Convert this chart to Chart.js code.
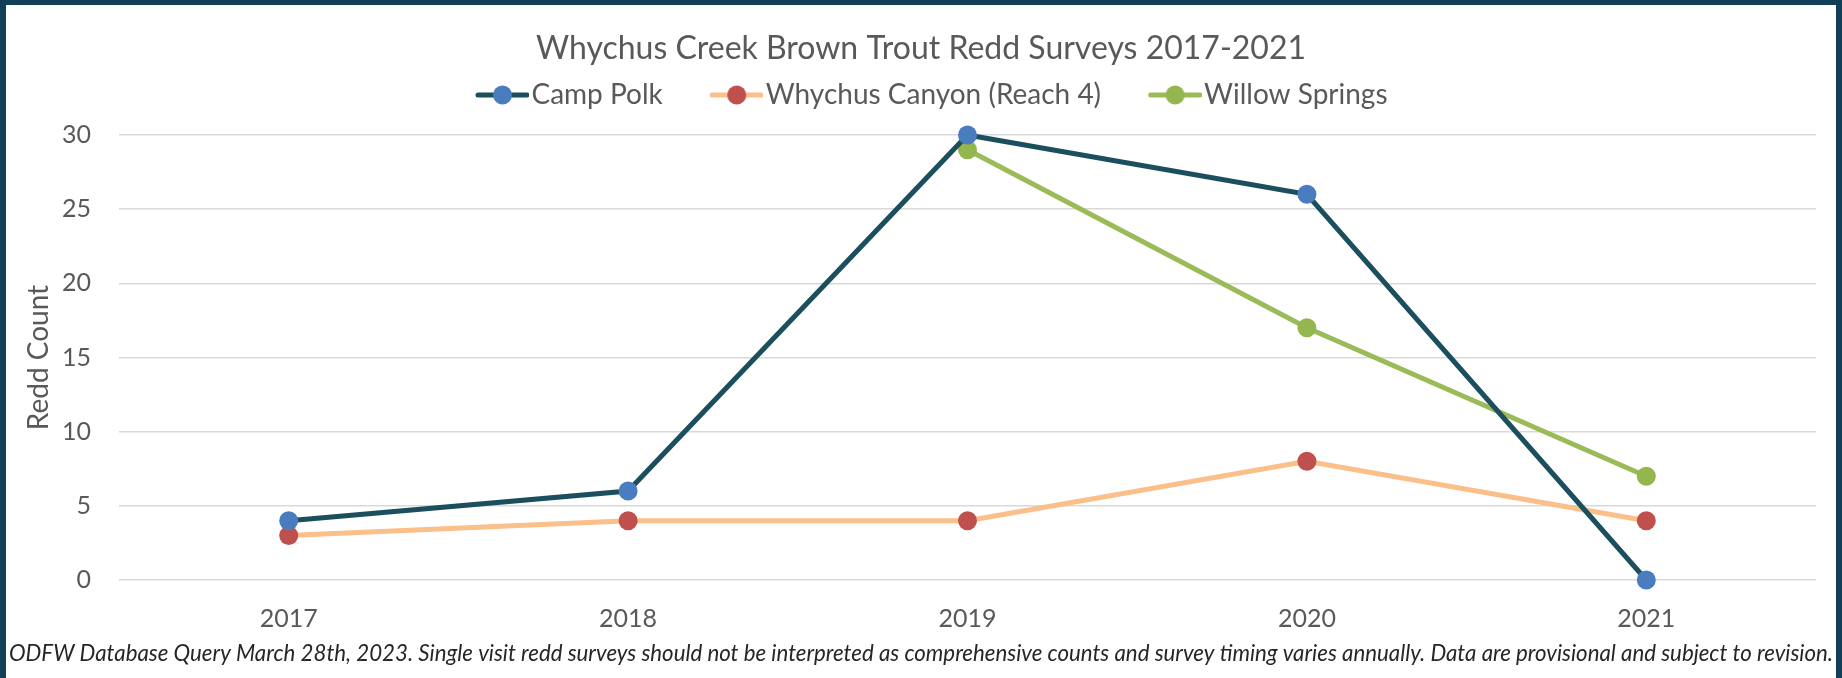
<!DOCTYPE html>
<html lang="en">
<head>
  <meta charset="UTF-8">
  <title>Whychus Creek Brown Trout Redd Surveys 2017-2021</title>
  <script src="https://cdn.jsdelivr.net/npm/chart.js"></script>
  <style>
    html, body { margin: 0; padding: 0; }
    body { width: 1842px; height: 678px; background: #123f58; position: relative; overflow: hidden; }
    .frame { position: absolute; left: 6px; top: 5px; width: 1830px; height: 673px; background: #fff; }
    canvas { display: block; }
  </style>
</head>
<body>
  <div class="frame"><canvas id="reddChart"></canvas></div>

  <script>
    // data
    const years = ['2017', '2018', '2019', '2020', '2021'];
    const campPolk = [4, 6, 30, 26, 0];
    const whychusCanyon = [3, 4, 4, 8, 4];
    const willowSprings = [null, null, 29, 17, 7];

    const titleText = 'Whychus Creek Brown Trout Redd Surveys 2017-2021';
    const noteText = 'ODFW Database Query March 28th, 2023. Single visit redd surveys should not be interpreted as comprehensive counts and survey timing varies annually. Data are provisional and subject to revision.';

    const FONT = 'Lato, "Open Sans", sans-serif';
    const GREY = '#595959';

    // footnote is sized so it runs across the whole frame
    function fitFontSize(text, targetWidth, style) {
      const c = document.createElement('canvas').getContext('2d');
      c.font = style + ' 20px ' + FONT;
      return 20 * targetWidth / c.measureText(text).width;
    }
    const noteSize = fitFontSize(noteText, 1826, 'italic');

    // legend swatch: line with a marker on it, like the Excel legend
    function legendSwatch(lineColor, dotColor) {
      const c = document.createElement('canvas');
      c.width = 86; c.height = 22;
      const g = c.getContext('2d');
      g.strokeStyle = lineColor;
      g.lineWidth = 5;
      g.lineCap = 'round';
      g.beginPath();
      g.moveTo(35, 11);
      g.lineTo(84, 11);
      g.stroke();
      g.fillStyle = dotColor;
      g.beginPath();
      g.arc(59.5, 11, 9.5, 0, Math.PI * 2);
      g.fill();
      return c;
    }

    const series = [
      { label: 'Camp Polk', data: campPolk, line: '#1b4f5e', dot: '#4a7dc0' },
      { label: 'Whychus Canyon (Reach 4)', data: whychusCanyon, line: '#fbbf8a', dot: '#c0504d' },
      { label: 'Willow Springs', data: willowSprings, line: '#9bbb59', dot: '#93b64e' }
    ];
    const swatches = series.map(s => legendSwatch(s.line, s.dot));

    const ctx = document.getElementById('reddChart').getContext('2d');
    new Chart(ctx, {
      type: 'line',
      data: {
        labels: years,
        datasets: series.map(s => ({
          label: s.label,
          data: s.data,
          borderColor: s.line,
          backgroundColor: s.dot,
          borderWidth: 5,
          pointRadius: 9.5,
          pointHoverRadius: 9.5,
          pointBorderWidth: 0,
          pointBackgroundColor: s.dot,
          tension: 0,
          clip: false
        }))
      },
      options: {
        responsive: true,
        maintainAspectRatio: false,
        animation: false,
        layout: { padding: 0 },
        plugins: {
          title: {
            display: true,
            text: titleText,
            color: GREY,
            font: { family: FONT, size: 32, weight: 'normal', lineHeight: '12px' },
            padding: { top: 38, bottom: 0 }
          },
          subtitle: {
            display: true,
            position: 'bottom',
            text: noteText,
            color: '#262626',
            font: { family: FONT, size: noteSize, style: 'italic', weight: 'normal', lineHeight: '24px' },
            padding: { top: 10, bottom: 12 }
          },
          legend: {
            display: true,
            position: 'top',
            labels: {
              color: GREY,
              font: { family: FONT, size: 28 },
              usePointStyle: true,
              pointStyleWidth: 63,
              padding: 26,
              generateLabels: (chart) => {
                const items = Chart.defaults.plugins.legend.labels.generateLabels(chart);
                items.forEach(it => { it.pointStyle = swatches[it.datasetIndex]; });
                return items;
              }
            }
          },
          tooltip: { enabled: false }
        },
        scales: {
          x: {
            offset: true,
            grid: { display: false, drawTicks: false },
            border: { display: false },
            ticks: { color: GREY, font: { family: FONT, size: 25 }, padding: 24 },
            afterFit: (scale) => { scale.height = 52; }
          },
          // empty axes on top and right, only to leave the same gaps as the original
          xTop: {
            position: 'top',
            display: true,
            grid: { display: false, drawTicks: false },
            border: { display: false },
            ticks: { display: false },
            afterFit: (scale) => { scale.height = 16; }
          },
          y: {
            min: 0,
            max: 30,
            ticks: { stepSize: 5, color: GREY, font: { family: FONT, size: 25 }, padding: 28 },
            grid: { color: '#d9d9d9', lineWidth: 1.5, drawTicks: false },
            border: { display: false },
            title: {
              display: true,
              text: 'Redd Count',
              color: GREY,
              font: { family: FONT, size: 28 },
              padding: { top: 16, bottom: 0 }
            },
            afterFit: (scale) => { scale.width = 113; }
          },
          yRight: {
            position: 'right',
            display: true,
            grid: { display: false, drawTicks: false },
            border: { display: false },
            ticks: { display: false },
            afterFit: (scale) => { scale.width = 20; }
          }
        }
      }
    });
  </script>
</body>
</html>
